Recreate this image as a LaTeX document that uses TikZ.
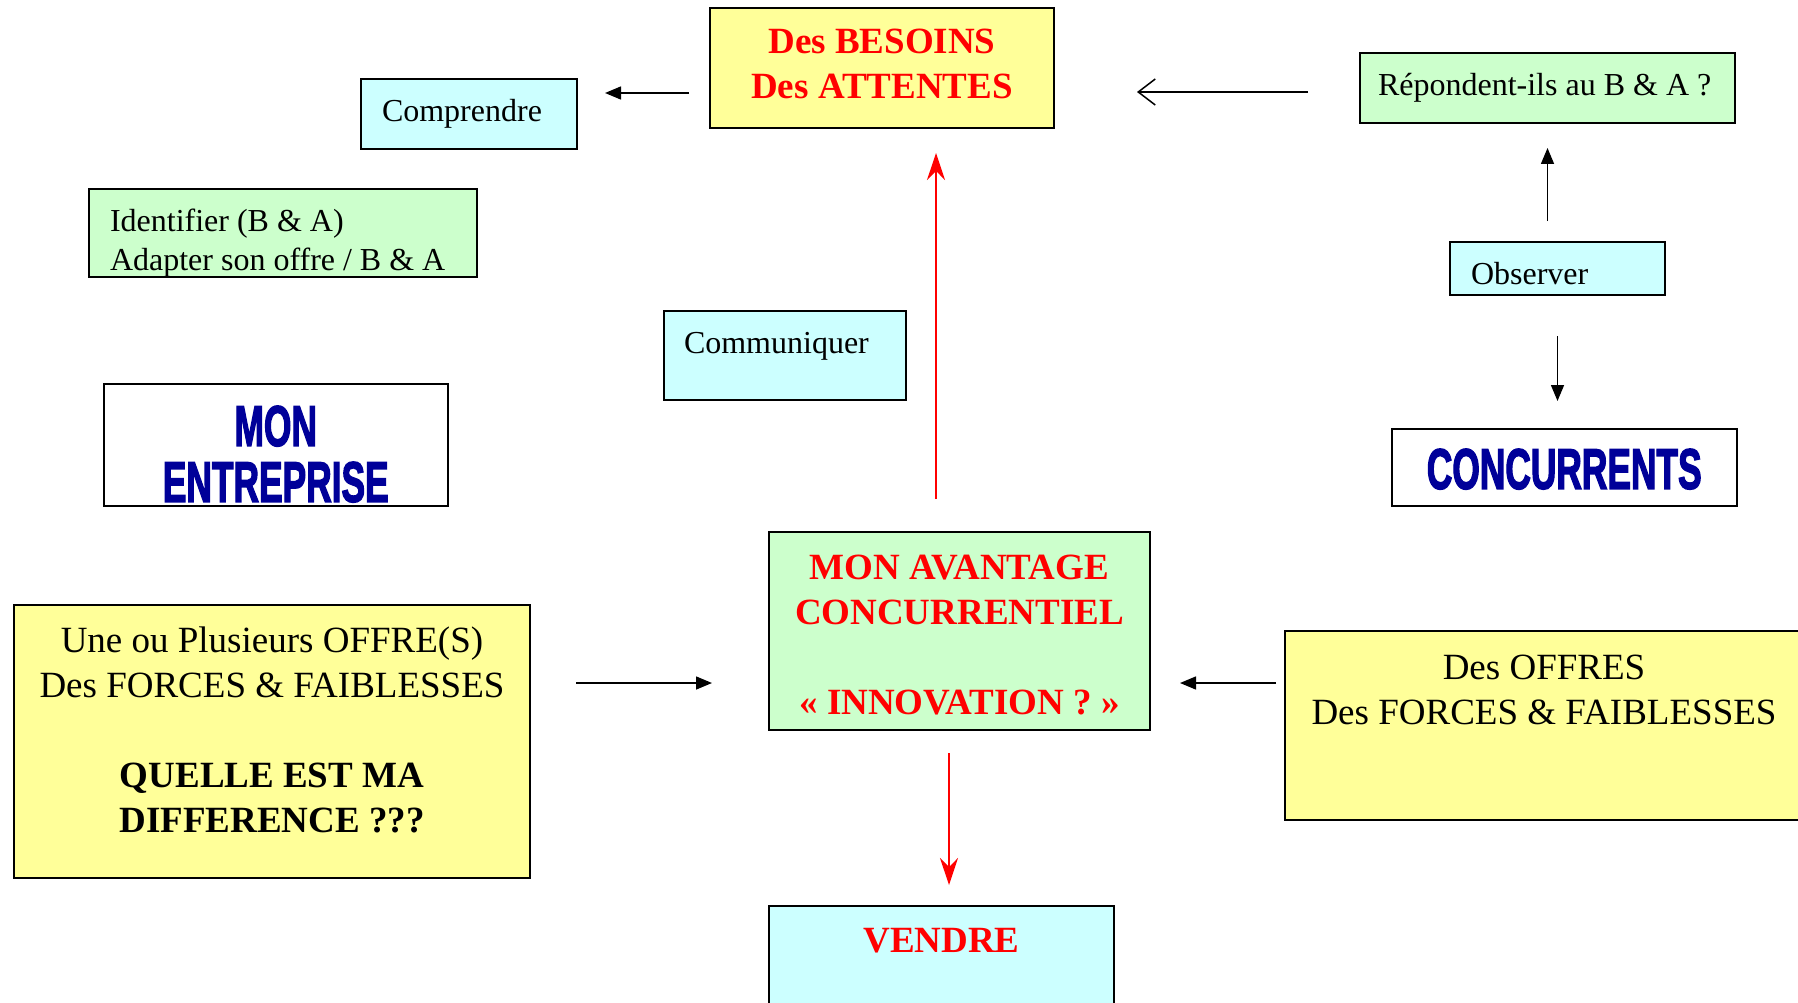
\documentclass[tikz,border=0pt]{standalone}
\usepackage{fontspec}
\setmainfont{Liberation Serif}
\newfontfamily\impactfont[FakeBold=3]{Liberation Sans Bold}
\usepackage{graphicx}
\usetikzlibrary{arrows.meta}
\definecolor{boxyellow}{HTML}{FFFF99}
\definecolor{boxcyan}{HTML}{CCFFFF}
\definecolor{boxgreen}{HTML}{CCFFCC}
\definecolor{titleblue}{HTML}{000099}
\newcommand{\heavytitle}[1]{\scalebox{0.62}[1]{\color{titleblue}\impactfont #1}}

\begin{document}
\begin{tikzpicture}[x=1pt, y=-1pt,
    box/.style={draw, line width=2pt, anchor=north west, inner ysep=0pt, inner xsep=20pt,
      execute at begin node={\spaceskip=.25em\xspaceskip=.25em\relax}},
    small/.style={font=\fontsize{32}{39}\selectfont, align=left},
    big/.style={font=\fontsize{37}{45}\selectfont, align=center},
    redbold/.style={text=red, font=\bfseries\fontsize{37}{45}\selectfont, align=center},
    heavy/.style={font=\fontsize{57}{56}\selectfont, align=center},
    arr/.style={line width=1.5pt, -{Triangle[length=16pt, width=13pt]}},
    openarr/.style={line width=1.5pt, -{Straight Barb[length=17pt, width=26pt]}},
    redarr/.style={red, line width=1.3pt, -{Stealth[length=27pt, width=18pt, inset=9pt]}}]
  \useasboundingbox (0,0) rectangle (1798,1003);

  % top row
  \node[box, small, fill=boxcyan, text width=174pt, text height=43pt, text depth=27pt, inner xsep=21pt] (comp) at (360,78) {Comprendre};
  \node[box, redbold, fill=boxyellow, text width=304pt, text height=46pt, text depth=74pt] (bes) at (709,7) {Des BESOINS\\Des ATTENTES};
  \node[box, small, fill=boxgreen, text width=339pt, text height=43pt, text depth=27pt, inner xsep=18pt] (rep) at (1359,52) {Répondent-ils au B \& A ?};

  \node[box, small, fill=boxgreen, text width=346pt, text height=42pt, text depth=46pt, inner xsep=21pt] (ident) at (88,188) {Identifier (B \& A)\\Adapter son offre / B \& A};
  \node[box, small, fill=boxcyan, text width=202pt, text height=42pt, text depth=47pt] (comm) at (663,310) {Communiquer};
  \node[box, small, fill=boxcyan, text width=173pt, text height=42pt, text depth=11pt, inner xsep=21pt] (obs) at (1449,241) {Observer};

  % the two players
  \node[box, heavy, line width=1.5pt, fill=white, text width=304pt, text height=62pt, text depth=60pt] (ent) at (103,383) {\heavytitle{MON}\\\heavytitle{ENTREPRISE}};
  \node[box, heavy, line width=1.5pt, fill=white, text width=305pt, text height=60pt, text depth=17pt] (conc) at (1391,428) {\heavytitle{CONCURRENTS}};

  % middle row
  \node[box, big, fill=boxyellow, text width=476pt, text height=47pt, text depth=226pt] (une) at (13,604) {Une ou Plusieurs OFFRE(S)\\Des FORCES \& FAIBLESSES\\[45pt]\textbf{QUELLE EST MA}\\\textbf{DIFFERENCE ???}};
  \node[box, redbold, fill=boxgreen, text width=341pt, text height=47pt, text depth=151pt] (avant) at (768,531) {MON AVANTAGE\\CONCURRENTIEL\\[45pt]« INNOVATION ? »};
  \node[box, big, fill=boxyellow, text width=478pt, text height=48pt, text depth=141pt] (offres) at (1284,630) {Des OFFRES\\Des FORCES \& FAIBLESSES};

  \node[box, redbold, fill=boxcyan, text width=305pt, text height=46pt, text depth=130pt] (vendre) at (768,905) {VENDRE};

  % connectors
  \draw[arr, shorten <=20pt, shorten >=27pt] (bes.west |- 0,93) -- (comp.east |- 0,93);
  \draw[openarr, shorten <=51pt, shorten >=82pt] (rep.west |- 0,92) -- (bes.east |- 0,92);
  \draw[arr, shorten <=20pt, shorten >=24pt] (obs.north -| rep.south) -- (rep.south);
  \draw[arr, shorten <=40pt, shorten >=27pt] (obs.south) -- (obs.south |- conc.north);
  \draw[arr, shorten <=45pt, shorten >=56pt] (une.east |- 0,683) -- (avant.west |- 0,683);
  \draw[arr, shorten <=8pt, shorten >=29pt] (offres.west |- 0,683) -- (avant.east |- 0,683);
  \draw[redarr, shorten <=32pt, shorten >=24pt] (avant.north -| 936,0) -- (bes.south -| 936,0);
  \draw[redarr, shorten <=22pt, shorten >=20pt] (avant.south -| 949,0) -- (vendre.north -| 949,0);
\end{tikzpicture}
\end{document}
